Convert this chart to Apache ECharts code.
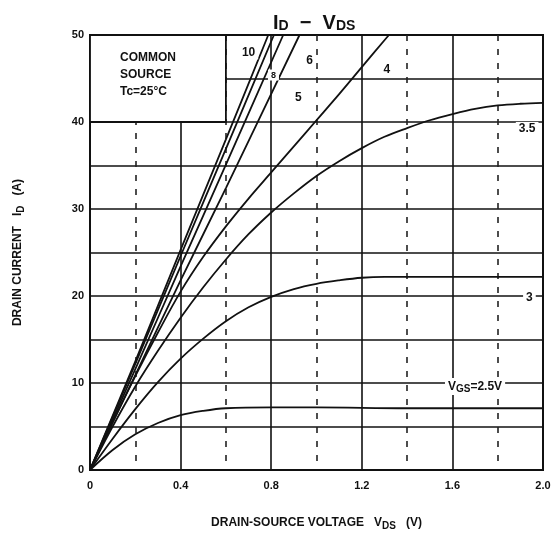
<!DOCTYPE html>
<html>
<head>
<meta charset="utf-8">
<script src="https://cdn.jsdelivr.net/npm/echarts@6/dist/echarts.min.js"></script>
<style>
  html, body { margin: 0; padding: 0; background: #fff; }
  #chart { width: 555px; height: 547px; }
</style>
</head>
<body>
<div id="chart"></div>
<script>
// ID - VDS curves, one array of [VDS, ID] per gate voltage
var vgs10 = [[0, 0], [0.2, 12.5], [0.4, 25.3], [0.6, 38], [0.787, 50]];
var vgs8 = [[0, 0], [0.2, 12.2], [0.4, 24.6], [0.6, 36.9], [0.812, 50]];
var vgs6 = [[0, 0], [0.2, 11.6], [0.4, 23.4], [0.6, 35.1], [0.853, 50]];
var vgs5 = [[0, 0], [0.2, 10.9], [0.4, 21.8], [0.6, 32.4], [0.925, 50]];
var vgs4 = [[0, 0], [0.1, 5.5], [0.2, 10.8], [0.3, 15.8], [0.4, 20.5], [0.5, 24.5], [0.6, 28],
  [0.7, 31.2], [0.8, 34.2], [0.9, 37.2], [1.0, 40.2], [1.1, 43.2], [1.2, 46.3], [1.3, 49.4], [1.32, 50]];
var vgs35 = [[0, 0], [0.1, 5], [0.2, 9.6], [0.3, 13.7], [0.4, 17.5], [0.5, 21], [0.6, 24.2],
  [0.7, 27.1], [0.8, 29.6], [0.9, 31.8], [1.0, 33.8], [1.1, 35.5], [1.2, 37], [1.3, 38.3],
  [1.4, 39.3], [1.5, 40.2], [1.6, 40.9], [1.7, 41.5], [1.8, 41.9], [1.9, 42.1], [2.0, 42.2]];
var vgs3 = [[0, 0], [0.1, 3.6], [0.2, 7], [0.3, 10.1], [0.4, 12.8], [0.5, 15.1], [0.6, 17.1],
  [0.7, 18.7], [0.8, 19.9], [0.9, 20.8], [1.0, 21.4], [1.1, 21.8], [1.2, 22.1], [1.3, 22.2],
  [1.6, 22.2], [2.0, 22.2]];
var vgs25 = [[0, 0], [0.1, 2.3], [0.2, 4.1], [0.3, 5.4], [0.4, 6.3], [0.5, 6.8], [0.6, 7.1],
  [0.8, 7.2], [1.0, 7.2], [1.4, 7.1], [2.0, 7.1]];

var curves = [vgs10, vgs8, vgs6, vgs5, vgs4, vgs35, vgs3, vgs25];
var curveNames = ['10', '8', '6', '5', '4', '3.5', '3', '2.5'];

// curve label texts and where they sit (in VDS / ID units)
var labelTexts = ['10', '8', '6', '5', '4', '3.5', '3', '{n|V}{s|GS}{n|=2.5V}'];
var labelAt = [[0.7, 48], [0.81, 45.4], [0.97, 47], [0.92, 42.8], [1.31, 46], [1.93, 39.2], [1.94, 19.8], [1.7, 9.6]];

var font = 'Liberation Sans';
var chart = echarts.init(document.getElementById('chart'));

var series = curves.map(function (d, i) {
  return {
    name: curveNames[i],
    type: 'line',
    data: d,
    smooth: 0.35,
    showSymbol: false,
    z: 3,
    lineStyle: { color: '#111', width: 1.8 }
  };
});

var option = {
  animation: false,
  title: {
    text: '{n|I}{s|D}{n|  −  V}{s|DS}',
    left: 268,
    top: 2,
    textStyle: {
      rich: {
        n: { fontFamily: font, fontSize: 20, fontWeight: 'bold', color: '#111', lineHeight: 26, verticalAlign: 'bottom' },
        s: { fontFamily: font, fontSize: 14, fontWeight: 'bold', color: '#111', lineHeight: 26, verticalAlign: 'bottom', padding: [8, 0, 0, 0] }
      }
    }
  },
  grid: { left: 90, right: 12, top: 35, bottom: 77, show: true, borderColor: '#111', borderWidth: 2 },
  xAxis: {
    type: 'value',
    min: 0,
    max: 2.0,
    interval: 0.4,
    name: '{n|DRAIN-SOURCE VOLTAGE   V}{s|DS}{n|   (V)}',
    nameLocation: 'middle',
    nameGap: 45,
    nameTextStyle: {
      rich: {
        n: { fontFamily: font, fontSize: 12, fontWeight: 'bold', color: '#111' },
        s: { fontFamily: font, fontSize: 10, fontWeight: 'bold', color: '#111', padding: [6, 0, 0, 0] }
      }
    },
    axisLine: { lineStyle: { color: '#111', width: 2 } },
    axisTick: { show: false },
    axisLabel: {
      fontFamily: font, fontSize: 11, fontWeight: 'bold', color: '#111', margin: 10,
      formatter: function (v) { return v === 0 ? '0' : v.toFixed(1); }
    },
    splitLine: { lineStyle: { color: '#111', width: 1.6 } },
    minorTick: { show: false, splitNumber: 2 },
    minorSplitLine: { show: true, lineStyle: { color: '#222', width: 1.6, type: [6, 8] } }
  },
  yAxis: {
    type: 'value',
    min: 0,
    max: 50,
    interval: 10,
    name: '{n|DRAIN CURRENT   I}{s|D}{n|   (A)}',
    nameLocation: 'middle',
    nameGap: 64,
    nameTextStyle: {
      rich: {
        n: { fontFamily: font, fontSize: 12, fontWeight: 'bold', color: '#111' },
        s: { fontFamily: font, fontSize: 10, fontWeight: 'bold', color: '#111', padding: [6, 0, 0, 0] }
      }
    },
    axisLine: { lineStyle: { color: '#111', width: 2 } },
    axisTick: { show: false },
    axisLabel: { fontFamily: font, fontSize: 11, fontWeight: 'bold', color: '#111', margin: 6 },
    splitLine: { lineStyle: { color: '#111', width: 1.6 } },
    minorTick: { show: false, splitNumber: 2 },
    minorSplitLine: { show: true, lineStyle: { color: '#111', width: 1.6 } }
  },
  series: series
};
chart.setOption(option);

// text box in the top left corner and the curve labels
function px(p) { return chart.convertToPixel({ gridIndex: 0 }, p); }
var a = px([0, 50]);
var b = px([0.6, 40]);
var graphics = [{
  type: 'rect',
  z: 1,
  shape: { x: a[0], y: a[1], width: b[0] - a[0], height: b[1] - a[1] },
  style: { fill: '#fff', stroke: '#111', lineWidth: 1.8 }
}, {
  type: 'text',
  z: 5,
  x: a[0] + 30,
  y: a[1] + 14,
  style: {
    text: 'COMMON\nSOURCE\nTc=25°C',
    fontFamily: font, fontSize: 12, fontWeight: 'bold', fill: '#111', lineHeight: 17
  }
}];
labelTexts.forEach(function (t, i) {
  var p = px(labelAt[i]);
  graphics.push({
    type: 'text',
    z: 5,
    x: p[0],
    y: p[1],
    style: {
      text: t,
      align: 'center',
      verticalAlign: 'middle',
      fontFamily: font,
      fontSize: i === 1 ? 9 : 12,
      fontWeight: 'bold',
      fill: '#111',
      backgroundColor: '#fff',
      padding: [1, 3],
      rich: {
        n: { fontFamily: font, fontSize: 12, fontWeight: 'bold', fill: '#111' },
        s: { fontFamily: font, fontSize: 10, fontWeight: 'bold', fill: '#111', padding: [5, 0, 0, 0] }
      }
    }
  });
});
chart.setOption({ graphic: graphics });
</script>
</body>
</html>
